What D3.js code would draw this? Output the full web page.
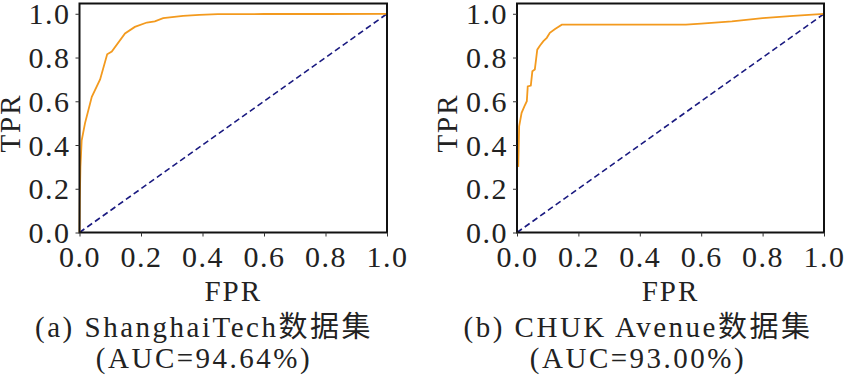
<!DOCTYPE html>
<html>
<head>
<meta charset="utf-8">
<script src="https://cdn.jsdelivr.net/npm/d3@7"></script>
<style>
  body { margin: 0; background: #fff; }
  text { font-family: "Liberation Serif", "DejaVu Serif", "Noto Sans CJK SC", serif; fill: #222; }
</style>
</head>
<body>
<div id="chart"></div>
<script>
// ROC data
var shanghaiFpr = [0, 0.001, 0.003, 0.007, 0.018, 0.04, 0.067, 0.09, 0.105, 0.148, 0.18, 0.219, 0.245, 0.272, 0.337, 0.39, 0.45, 0.6, 0.8, 1.0];
var shanghaiTpr = [0, 0.15, 0.30, 0.42, 0.50, 0.62, 0.70, 0.815, 0.827, 0.91, 0.94, 0.96, 0.965, 0.98, 0.99, 0.995, 0.998, 0.999, 0.999, 1.0];

var avenueFpr = [0.004, 0.004, 0.007, 0.015, 0.024, 0.032, 0.035, 0.045, 0.05, 0.058, 0.062, 0.066, 0.075, 0.086, 0.097, 0.107, 0.124, 0.146, 0.55, 0.6, 0.7, 0.8, 0.9, 0.95, 1.0];
var avenueTpr = [0.30, 0.30, 0.485, 0.547, 0.577, 0.60, 0.668, 0.672, 0.737, 0.745, 0.79, 0.836, 0.855, 0.875, 0.89, 0.913, 0.93, 0.95, 0.95, 0.955, 0.965, 0.98, 0.99, 0.995, 1.0];

var ticks = [0, 0.2, 0.4, 0.6, 0.8, 1.0];
var captions = ["(a) ShanghaiTech数据集", "(b) CHUK Avenue数据集"];
var aucLabels = ["(AUC=94.64%)", "(AUC=93.00%)"];

var width = 846, height = 380;
var svg = d3.select("#chart").append("svg")
    .attr("width", width)
    .attr("height", height);

var panels = [
    {left: 79.5, right: 387, fpr: shanghaiFpr, tpr: shanghaiTpr, capX: 204, tprX: 20},
    {left: 517, right: 824, fpr: avenueFpr, tpr: avenueTpr, capX: 638, tprX: 457}
];

var plotTop = 3.5, plotBottom = 232.5;

panels.forEach(function(p, i) {
    var x = d3.scaleLinear().domain([0, 1]).range([p.left, p.right]);
    var y = d3.scaleLinear().domain([0, 1.047]).range([plotBottom, plotTop]);
    var g = svg.append("g");

    // diagonal chance line
    g.append("line")
        .attr("x1", x(0)).attr("y1", y(0))
        .attr("x2", x(1)).attr("y2", y(1))
        .attr("stroke", "#1a1a80")
        .attr("stroke-width", 1.6)
        .attr("stroke-dasharray", "6,3.5");

    var pts = p.fpr.map(function(f, k) { return [f, p.tpr[k]]; });
    var line = d3.line()
        .x(function(d) { return x(d[0]); })
        .y(function(d) { return y(d[1]); });
    g.append("path")
        .datum(pts)
        .attr("d", line)
        .attr("fill", "none")
        .attr("stroke", "#f39a1e")
        .attr("stroke-width", 1.8);

    // frame
    g.append("rect")
        .attr("x", p.left).attr("y", plotTop)
        .attr("width", p.right - p.left)
        .attr("height", plotBottom - plotTop)
        .attr("fill", "none")
        .attr("stroke", "#111")
        .attr("stroke-width", 2);

    var xAxis = g.append("g")
        .attr("transform", "translate(0," + plotBottom + ")")
        .call(d3.axisBottom(x).tickValues(ticks).tickSize(4).tickFormat(d3.format(".1f")));
    var yAxis = g.append("g")
        .attr("transform", "translate(" + p.left + ",0)")
        .call(d3.axisLeft(y).tickValues(ticks).tickSize(4).tickFormat(d3.format(".1f")));

    [xAxis, yAxis].forEach(function(ax) {
        ax.select(".domain").remove();
        ax.selectAll(".tick line").attr("stroke", "#333").attr("stroke-width", 1);
        ax.selectAll("text")
            .style("font-family", "Liberation Serif, serif")
            .style("font-size", "30px")
            .style("letter-spacing", "1.5px")
            .attr("fill", "#222");
    });
    xAxis.selectAll("text").attr("y", 13).attr("dy", "0.71em");
    yAxis.selectAll("text").attr("x", -9).attr("dy", "0.34em");

    g.append("text")
        .attr("x", (p.left + p.right) / 2)
        .attr("y", 301)
        .attr("text-anchor", "middle")
        .style("font-size", "29px")
        .style("letter-spacing", "2px")
        .text("FPR");

    g.append("text")
        .attr("transform", "translate(" + p.tprX + ",123) rotate(-90)")
        .attr("text-anchor", "middle")
        .style("font-size", "29px")
        .style("letter-spacing", "2px")
        .text("TPR");

    g.append("text")
        .attr("x", p.capX)
        .attr("y", 337)
        .attr("text-anchor", "middle")
        .style("font-size", "29px")
        .style("letter-spacing", "2.5px")
        .text(captions[i]);

    g.append("text")
        .attr("x", p.capX)
        .attr("y", 368)
        .attr("text-anchor", "middle")
        .style("font-size", "29px")
        .style("letter-spacing", "2.5px")
        .text(aucLabels[i]);
});
</script>
</body>
</html>
